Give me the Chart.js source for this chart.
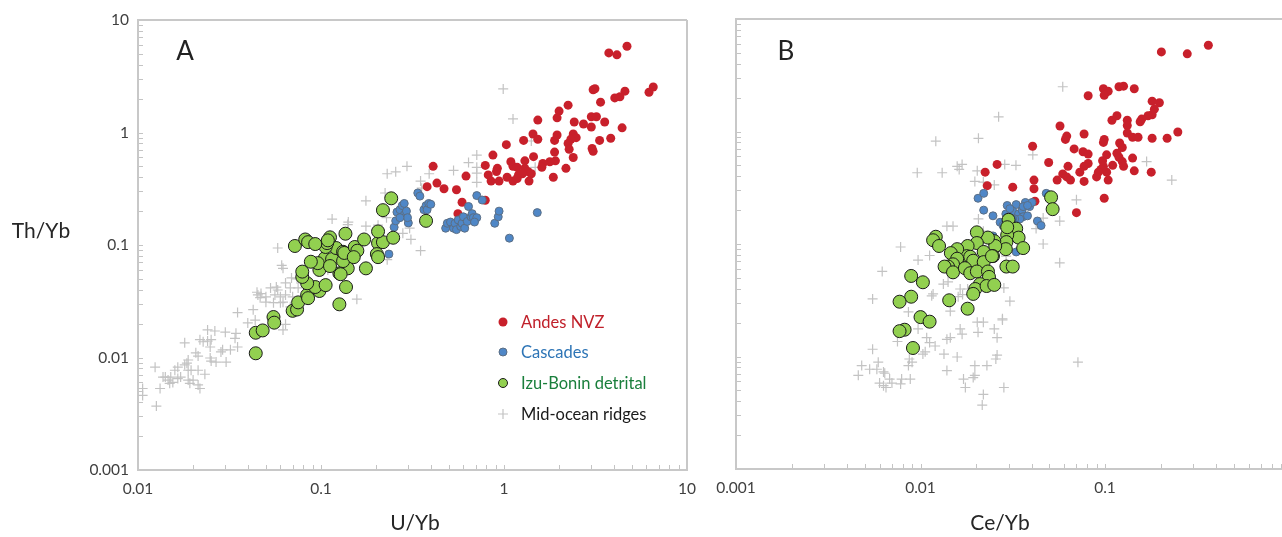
<!DOCTYPE html>
<html lang="en">
<head>
<meta charset="UTF-8">
<title>Th/Yb vs U/Yb and Ce/Yb</title>
<script src="https://cdn.jsdelivr.net/npm/chart.js"></script>
<style>
  html, body { margin: 0; padding: 0; background: #fff; }
  #wrap { position: relative; width: 1282px; height: 537px; overflow: hidden; }
  #chartA { position: absolute; left: 0; top: 0; }
  #chartB { position: absolute; left: 700px; top: 0; }
</style>
</head>
<body>
<div id="wrap">
  <canvas id="chartA" width="700" height="537"></canvas>
  <canvas id="chartB" width="582" height="537"></canvas>
</div>
<script>
// ---- data: [x, Th/Yb] pairs ----
// panel A: x = U/Yb
var andesA = [
  [4.7,5.85],[3.74,5.1],[4.14,4.9],[6.54,2.54],[6.2,2.28],[3.07,2.4],[3.14,2.45],[4.58,2.33],[4.03,2.03],[4.3,2.08],
  [3.37,1.86],[2.24,1.75],[2.0,1.55],[1.95,1.35],[1.53,1.29],[2.42,1.24],[2.72,1.19],[3.0,1.38],[3.2,1.38],[3.0,1.12],
  [3.55,1.24],[4.42,1.1],[1.44,0.97],[1.53,0.87],[1.28,0.85],[1.03,0.78],[1.89,0.85],[1.95,0.95],[2.39,0.97],[2.48,0.9],
  [2.32,0.87],[2.24,0.8],[2.27,0.71],[3.33,0.85],[3.83,0.89],[3.03,0.72],[3.07,0.68],[0.87,0.63],[1.45,0.61],[1.89,0.67],
  [2.39,0.6],[1.09,0.55],[1.12,0.5],[1.18,0.49],[1.3,0.56],[1.91,0.56],[1.78,0.55],[1.63,0.53],[1.61,0.49],[0.92,0.48],
  [0.91,0.45],[0.79,0.51],[1.3,0.48],[1.35,0.45],[2.18,0.48],[0.41,0.5],[0.62,0.41],[0.82,0.42],[1.04,0.4],[1.2,0.42],
  [1.26,0.43],[1.41,0.43],[1.86,0.4],[0.85,0.37],[0.94,0.37],[1.12,0.37],[1.18,0.39],[1.37,0.37],[0.43,0.355],[0.38,0.33],
  [0.47,0.316],[0.55,0.31],[0.79,0.25],[0.59,0.24],[0.56,0.19]
];
var cascadesA = [
  [0.235,0.083],[0.251,0.144],[0.256,0.164],[0.26,0.196],[0.27,0.206],[0.278,0.224],[0.285,0.234],[0.285,0.185],[0.293,0.2],[0.3,0.157],
  [0.297,0.175],[0.27,0.175],[0.338,0.29],[0.347,0.272],[0.365,0.206],[0.375,0.224],[0.38,0.206],[0.388,0.234],[0.398,0.23],[0.48,0.141],
  [0.49,0.156],[0.51,0.16],[0.53,0.141],[0.54,0.156],[0.55,0.137],[0.562,0.167],[0.58,0.146],[0.59,0.156],[0.6,0.178],[0.61,0.141],
  [0.63,0.162],[0.64,0.22],[0.66,0.178],[0.67,0.19],[0.68,0.175],[0.71,0.175],[0.69,0.16],[0.71,0.275],[0.76,0.251],[0.89,0.156],
  [0.93,0.178],[0.94,0.2],[1.52,0.194],[1.07,0.115]
];
var izuA = [
  [0.044,0.0109],[0.044,0.0166],[0.048,0.0174],[0.055,0.0229],[0.0555,0.0204],[0.07,0.026],[0.074,0.0267],[0.075,0.0309],[0.084,0.036],[0.085,0.0337],
  [0.098,0.039],[0.093,0.0423],[0.106,0.044],[0.084,0.0457],[0.079,0.052],[0.137,0.0423],[0.126,0.0297],[0.079,0.058],[0.098,0.06],[0.126,0.056],
  [0.176,0.062],[0.14,0.062],[0.128,0.055],[0.105,0.0765],[0.096,0.069],[0.115,0.075],[0.132,0.072],[0.088,0.071],[0.112,0.065],[0.121,0.094],
  [0.132,0.087],[0.134,0.085],[0.153,0.096],[0.158,0.089],[0.151,0.078],[0.205,0.104],[0.218,0.106],[0.202,0.083],[0.205,0.078],[0.106,0.096],
  [0.108,0.104],[0.072,0.098],[0.082,0.112],[0.085,0.106],[0.093,0.102],[0.112,0.117],[0.109,0.11],[0.136,0.126],[0.172,0.112],[0.205,0.132],
  [0.248,0.116],[0.218,0.204],[0.242,0.26],[0.375,0.164]
];
var morbA = [
  [0.99,2.44],[1.12,1.32],[1.41,0.84],[1.48,0.49],[0.71,0.63],[0.64,0.54],[0.71,0.49],[0.71,0.435],[0.71,0.36],[0.53,0.46],
  [0.39,0.43],[0.35,0.37],[0.355,0.32],[0.295,0.5],[0.256,0.447],[0.23,0.43],[0.176,0.247],[0.224,0.29],[0.115,0.17],[0.141,0.16],
  [0.14,0.152],[0.176,0.147],[0.205,0.15],[0.228,0.175],[0.305,0.141],[0.28,0.127],[0.31,0.112],[0.35,0.089],[0.058,0.094],[0.061,0.066],
  [0.062,0.062],[0.115,0.074],[0.109,0.06],[0.23,0.074],[0.157,0.033],
  [0.069,0.051],[0.074,0.05],[0.064,0.046],[0.068,0.0415],[0.075,0.0415],[0.057,0.0423],[0.053,0.0415],[0.058,0.0398],[0.0447,0.038],[0.047,0.037],
  [0.0452,0.036],[0.05,0.0346],[0.0465,0.034],[0.064,0.036],[0.06,0.0346],[0.056,0.036],[0.07,0.0346],[0.06,0.0307],[0.055,0.0307],[0.05,0.031],
  [0.062,0.031],[0.068,0.0282],[0.035,0.0251],[0.0426,0.0266],[0.0437,0.0215],[0.0398,0.0203],[0.062,0.0176],[0.064,0.0197],[0.024,0.0176],[0.0263,0.0172],
  [0.03,0.0168],[0.0343,0.0164],[0.0339,0.0148],[0.0218,0.0144],[0.0227,0.0138],[0.024,0.014],[0.0251,0.0144],[0.0248,0.0124],[0.018,0.0135],[0.035,0.0124],
  [0.032,0.0117],[0.029,0.0117],[0.0284,0.0112],[0.0207,0.011],[0.0213,0.0103],[0.0248,0.0099],[0.0251,0.0093],[0.0267,0.0091],[0.0188,0.0095],[0.0185,0.0089],
  [0.0303,0.0091],[0.0165,0.0082],[0.0159,0.0077],[0.018,0.0086],[0.0188,0.0077],[0.0195,0.0077],[0.0232,0.0071],[0.0213,0.0077],[0.0141,0.0067],[0.0146,0.0063],
  [0.0151,0.0067],[0.0165,0.0065],[0.0171,0.0067],[0.0124,0.0082],[0.0149,0.0059],[0.0155,0.006],[0.0188,0.0063],[0.0192,0.0059],[0.0213,0.0057],[0.0218,0.0053],
  [0.02,0.0063],[0.0132,0.0053],[0.0106,0.0053],[0.0106,0.0046],[0.0126,0.0037],[0.0137,0.0067]
];

// panel B: x = Ce/Yb
var andesB = [
  [0.363,5.85],[0.202,5.1],[0.279,4.9],[0.098,2.4],[0.101,2.24],[0.104,2.28],[0.099,2.1],[0.119,2.5],[0.126,2.53],[0.144,2.4],
  [0.081,2.08],[0.18,1.86],[0.197,1.8],[0.185,1.58],[0.18,1.41],[0.171,1.38],[0.158,1.29],[0.155,1.22],[0.116,1.38],[0.109,1.26],
  [0.132,1.26],[0.132,1.13],[0.057,1.12],[0.248,0.99],[0.062,0.91],[0.061,0.85],[0.077,0.95],[0.132,0.97],[0.141,0.89],[0.151,0.89],
  [0.18,0.87],[0.217,0.87],[0.099,0.85],[0.098,0.8],[0.0405,0.74],[0.068,0.7],[0.076,0.66],[0.081,0.63],[0.12,0.79],[0.124,0.72],
  [0.116,0.64],[0.119,0.59],[0.102,0.62],[0.141,0.58],[0.0495,0.53],[0.081,0.52],[0.077,0.49],[0.063,0.49],[0.097,0.55],[0.098,0.49],
  [0.095,0.46],[0.092,0.435],[0.102,0.435],[0.09,0.395],[0.104,0.37],[0.11,0.5],[0.124,0.54],[0.126,0.49],[0.073,0.435],[0.144,0.447],
  [0.178,0.435],[0.059,0.42],[0.062,0.395],[0.065,0.37],[0.055,0.37],[0.077,0.36],[0.0412,0.37],[0.0316,0.32],[0.0412,0.31],[0.099,0.255],
  [0.07,0.19],[0.0417,0.24],[0.026,0.51],[0.0224,0.435],[0.023,0.33]
];
var cascadesB = [
  [0.0205,0.255],[0.022,0.282],[0.022,0.2],[0.0247,0.178],[0.027,0.156],[0.028,0.146],[0.029,0.185],[0.0295,0.22],[0.033,0.224],[0.031,0.2],
  [0.0316,0.196],[0.034,0.185],[0.0355,0.2],[0.036,0.175],[0.037,0.234],[0.0345,0.167],[0.039,0.215],[0.0402,0.234],[0.038,0.178],[0.036,0.215],
  [0.0324,0.167],[0.043,0.16],[0.045,0.146],[0.048,0.282],[0.033,0.085],[0.0247,0.118],[0.038,0.22],[0.0305,0.206],[0.0316,0.167]
];
var izuB = [
  [0.051,0.26],[0.052,0.204],[0.03,0.164],[0.033,0.137],[0.034,0.114],[0.0295,0.12],[0.0292,0.104],[0.029,0.09],[0.036,0.092],[0.0295,0.141],
  [0.0292,0.063],[0.0316,0.063],[0.0251,0.106],[0.0254,0.096],[0.0247,0.078],[0.0232,0.114],[0.0202,0.127],[0.0202,0.102],[0.018,0.096],[0.0178,0.078],
  [0.0186,0.077],[0.0193,0.071],[0.022,0.085],[0.022,0.069],[0.0244,0.078],[0.0158,0.09],[0.0146,0.083],[0.0158,0.074],[0.015,0.066],[0.0141,0.063],
  [0.0135,0.063],[0.015,0.056],[0.0174,0.061],[0.0186,0.055],[0.0202,0.057],[0.0232,0.057],[0.0235,0.051],[0.0121,0.116],[0.0117,0.108],[0.0126,0.096],
  [0.021,0.044],[0.0198,0.0398],[0.0193,0.036],[0.0228,0.0423],[0.0251,0.0433],[0.018,0.0266],[0.0143,0.0316],[0.0089,0.052],[0.0103,0.0457],[0.0089,0.034],
  [0.0077,0.0307],[0.01,0.0224],[0.0112,0.0204],[0.0082,0.0173],[0.0077,0.0168],[0.0091,0.0119]
];
var morbB = [
  [0.059,2.5],[0.0265,1.35],[0.0206,0.87],[0.0121,0.82],[0.0158,0.49],[0.0168,0.51],[0.0162,0.46],[0.0203,0.447],[0.0096,0.43],[0.0131,0.43],
  [0.0197,0.36],[0.0219,0.355],[0.0251,0.335],[0.0286,0.51],[0.0329,0.5],[0.0406,0.62],[0.168,0.54],[0.23,0.37],[0.07,0.247],[0.0139,0.144],
  [0.015,0.144],[0.0206,0.167],[0.0462,0.17],[0.0568,0.16],[0.0423,0.137],[0.0462,0.1],[0.0568,0.068],[0.0291,0.078],[0.0078,0.094],[0.0112,0.079],
  [0.0097,0.072],[0.0219,0.13],[0.0062,0.057],[0.0055,0.0325],[0.0133,0.044],[0.0141,0.046],[0.0115,0.0346],[0.0117,0.036],[0.0164,0.0398],[0.018,0.0398],
  [0.016,0.034],[0.0169,0.0355],[0.0145,0.0253],[0.0086,0.0249],[0.0097,0.0176],[0.0105,0.0209],[0.0203,0.0202],[0.0219,0.0202],[0.0205,0.0164],[0.0278,0.0216],
  [0.0251,0.0176],[0.026,0.0147],[0.0283,0.0407],[0.0305,0.031],[0.0278,0.0211],[0.0713,0.0089],[0.0283,0.0053],[0.0055,0.0116],[0.0075,0.0136],[0.0108,0.0147],
  [0.0112,0.0133],[0.0139,0.0142],[0.0145,0.0147],[0.0164,0.0176],[0.0168,0.0158],[0.012,0.0124],[0.0106,0.011],[0.009,0.0089],[0.0087,0.0095],[0.0086,0.0083],
  [0.0134,0.0105],[0.0158,0.0099],[0.0048,0.0083],[0.0046,0.0068],[0.0053,0.0077],[0.0058,0.0077],[0.0063,0.0073],[0.0059,0.0089],[0.0197,0.0083],[0.0197,0.0068],
  [0.0193,0.0065],[0.0229,0.0083],[0.0256,0.0095],[0.026,0.0103],[0.0171,0.0063],[0.0068,0.0063],[0.0063,0.0055],[0.0065,0.0053],[0.0079,0.0063],[0.0088,0.0063],
  [0.0139,0.0075],[0.0175,0.0053],[0.0219,0.0046],[0.0216,0.0037],[0.0103,0.0105],[0.0064,0.0071],[0.006,0.0058],[0.007,0.0058],[0.0078,0.0057]
];

// axis ticks
var yTicks = [0.001, 0.01, 0.1, 1, 10];
var yLabels = ['0.001', '0.01', '0.1', '1', '10'];
var xTicksA = [0.01, 0.1, 1, 10];
var xLabelsA = ['0.01', '0.1', '1', '10'];
var xTicksB = [0.001, 0.01, 0.1];
var xLabelsB = ['0.001', '0.01', '0.1'];

var seriesNames = ['Andes NVZ', 'Cascades', 'Izu-Bonin detrital', 'Mid-ocean ridges'];

var FONT = 'Lato, "Open Sans", sans-serif';
var RED = '#c8202b', BLUE = '#4f87c7', GREEN = '#92d050', GREY = '#c3c3c3';

function toXY(arr) {
  return arr.map(function (p) { return { x: p[0], y: p[1] }; });
}

// tick positions 1..9 x 10^k inside the axis range
function logSteps(min, max) {
  var out = [];
  for (var k = Math.floor(Math.log10(min)) ; k <= Math.ceil(Math.log10(max)); k++) {
    for (var m = 1; m <= 9; m++) {
      var v = m * Math.pow(10, k);
      if (v >= min * 0.999 && v <= max * 1.001) out.push(v);
    }
  }
  return out;
}

function marker(c, kind, x, y) {
  c.beginPath();
  if (kind === 3) {
    c.strokeStyle = GREY; c.lineWidth = 1.2;
    c.moveTo(x - 5, y); c.lineTo(x + 5, y);
    c.moveTo(x, y - 5); c.lineTo(x, y + 5);
    c.stroke();
    return;
  }
  var r = [4.5, 4, 4.5][kind];
  c.arc(x, y, r, 0, Math.PI * 2);
  c.fillStyle = [RED, BLUE, GREEN][kind];
  c.fill();
  if (kind === 1) { c.strokeStyle = '#5b6e84'; c.lineWidth = 1; c.stroke(); }
  if (kind === 2) { c.strokeStyle = '#1a1a1a'; c.lineWidth = 1; c.stroke(); }
}

var decor = {
  id: 'panelDecor',
  beforeDatasetsDraw: function (chart, args, o) {
    var c = chart.ctx, a = chart.chartArea, xs = chart.scales.x, ys = chart.scales.y;
    c.save();
    c.strokeStyle = '#c4c4c4';
    c.lineWidth = 1;
    c.beginPath();
    logSteps(xs.min, xs.max).forEach(function (v) {
      var px = Math.round(xs.getPixelForValue(v)) + 0.5;
      c.moveTo(px, a.bottom); c.lineTo(px, a.bottom - 5);
    });
    logSteps(ys.min, ys.max).forEach(function (v) {
      var py = Math.round(ys.getPixelForValue(v)) + 0.5;
      c.moveTo(a.left, py); c.lineTo(a.left + 5, py);
    });
    c.stroke();

    c.strokeStyle = '#c8c8c8';
    c.lineWidth = 2;
    c.beginPath();
    c.moveTo(a.right, a.top); c.lineTo(a.left, a.top);
    c.lineTo(a.left, a.bottom); c.lineTo(a.right, a.bottom);
    if (o.closeRight) c.lineTo(a.right, a.top);
    c.stroke();
    c.restore();
  },
  afterDraw: function (chart, args, o) {
    var c = chart.ctx;
    c.save();
    c.textBaseline = 'middle';
    c.textAlign = 'center';
    c.fillStyle = '#222';
    c.font = '26px ' + FONT;
    c.fillText(o.letter[0], o.letter[1], o.letter[2]);
    c.font = '21px ' + FONT;
    c.fillStyle = '#262626';
    c.fillText(o.xTitle[0], o.xTitle[1], o.xTitle[2]);
    if (o.yTitle) c.fillText(o.yTitle[0], o.yTitle[1], o.yTitle[2]);

    if (o.legend) {
      var colors = ['#c0202a', '#2e75b6', '#1a7f3c', '#1a1a1a'];
      c.textAlign = 'left';
      c.font = '16.5px ' + FONT;
      seriesNames.forEach(function (name, i) {
        var y = o.legend.rows[i];
        marker(c, i, o.legend.x, y);
        c.fillStyle = colors[i];
        c.fillText(name, o.legend.x + 18, y + 1);
      });
    }
    c.restore();
  }
};

function makeChart(id, d) {
  var ctx = document.getElementById(id).getContext('2d');
  return new Chart(ctx, {
    type: 'scatter',
    data: {
      datasets: [
        { label: seriesNames[2], data: toXY(d.izu), order: 1,
          pointRadius: 6.5, pointBackgroundColor: GREEN, pointBorderColor: '#1a1a1a', pointBorderWidth: 1 },
        { label: seriesNames[1], data: toXY(d.cascades), order: 2,
          pointRadius: 4, pointBackgroundColor: BLUE, pointBorderColor: '#5b6e84', pointBorderWidth: 1 },
        { label: seriesNames[0], data: toXY(d.andes), order: 3,
          pointRadius: 4.5, pointBackgroundColor: RED, pointBorderColor: RED, pointBorderWidth: 0 },
        { label: seriesNames[3], data: toXY(d.morb), order: 4,
          pointStyle: 'cross', pointRadius: 5, pointBorderColor: GREY, pointBorderWidth: 1.2 }
      ]
    },
    options: {
      responsive: false,
      animation: false,
      events: [],
      layout: { autoPadding: false, padding: { top: d.top, right: d.right, left: 0, bottom: 0 } },
      plugins: {
        legend: { display: false },
        tooltip: { enabled: false },
        panelDecor: d.decor
      },
      scales: {
        x: {
          type: 'logarithmic', min: d.xMin, max: d.xMax,
          grid: { display: false, drawTicks: false },
          border: { display: false },
          afterBuildTicks: function (s) { s.ticks = d.xTicks.map(function (v) { return { value: v }; }); },
          afterFit: function (s) { s.height = d.xAxisH; s.paddingLeft = 0; s.paddingRight = 0; },
          ticks: {
            autoSkip: false, maxRotation: 0, padding: 10, color: '#404040',
            font: { family: FONT, size: 15.5 },
            callback: function (v, i) { return d.xLabels[i]; }
          }
        },
        y: {
          type: 'logarithmic', min: 0.001, max: 10,
          grid: { display: false, drawTicks: false },
          border: { display: false },
          afterBuildTicks: function (s) { s.ticks = yTicks.map(function (v) { return { value: v }; }); },
          afterFit: function (s) { s.width = d.yAxisW; s.paddingTop = 0; s.paddingBottom = 0; },
          ticks: {
            display: d.yLabels, padding: 9, color: '#404040',
            font: { family: FONT, size: 15.5 },
            callback: function (v, i) { return yLabels[i]; }
          }
        }
      }
    },
    plugins: [decor]
  });
}

makeChart('chartA', {
  andes: andesA, cascades: cascadesA, izu: izuA, morb: morbA,
  xMin: 0.01, xMax: 10, xTicks: xTicksA, xLabels: xLabelsA,
  top: 20, right: 13, xAxisH: 67, yAxisW: 138, yLabels: true,
  decor: {
    closeRight: true,
    letter: ['A', 185, 52],
    xTitle: ['U/Yb', 415, 523],
    yTitle: ['Th/Yb', 41, 231],
    legend: { x: 503, rows: [322, 352, 383, 414] }
  }
});

makeChart('chartB', {
  andes: andesB, cascades: cascadesB, izu: izuB, morb: morbB,
  xMin: 0.001, xMax: 0.91, xTicks: xTicksB, xLabels: xLabelsB,
  top: 19, right: 0, xAxisH: 68, yAxisW: 36, yLabels: false,
  decor: {
    closeRight: false,
    letter: ['B', 86, 52],
    xTitle: ['Ce/Yb', 300, 523]
  }
});
</script>
</body>
</html>
